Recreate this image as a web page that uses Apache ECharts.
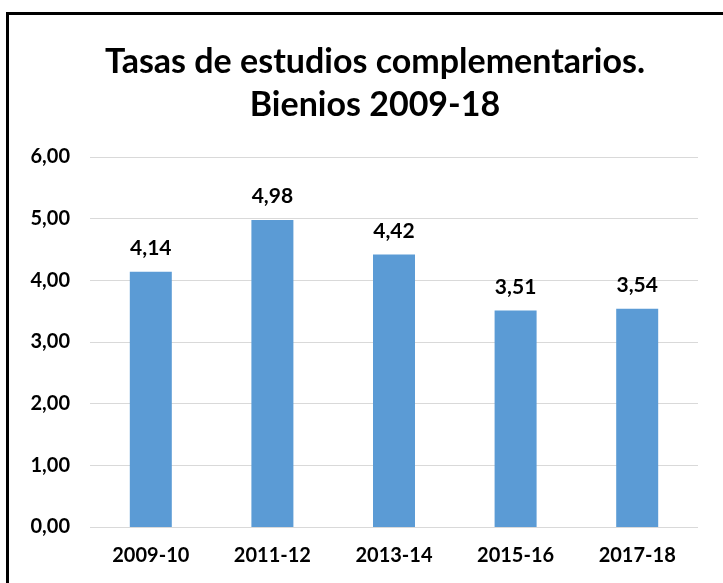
<!DOCTYPE html>
<html><head><meta charset="utf-8">
<script src="https://cdn.jsdelivr.net/npm/echarts@6/dist/echarts.min.js"></script>
<style>html,body{margin:0;padding:0;background:#fff}
#frame{position:absolute;left:6px;top:12px;width:740px;height:600px;border-left:3px solid #000;border-top:3px solid #000;}
#c{position:absolute;left:0;top:0;width:723px;height:583px}</style>
</head><body>
<div id="frame"></div>
<div id="c"></div>
<script>
const titleLines = ['Tasas de estudios complementarios.', 'Bienios 2009-18'];
const categories = ['2009-10', '2011-12', '2013-14', '2015-16', '2017-18'];
const values = [4.14, 4.98, 4.42, 3.51, 3.54];
const yMin = 0, yMax = 6, yStep = 1;

const fmt = v => v.toFixed(2).replace('.', ',');
const chart = echarts.init(document.getElementById('c'));
chart.setOption({
  animation: false,
  title: {
    text: titleLines.join('\n'),
    left: 370, top: 36, textAlign: 'center',
    textStyle: {fontFamily: 'Lato', fontWeight: 'bold', fontSize: 34, lineHeight: 43, color: '#000'}
  },
  grid: {left: 90, right: 25, top: 157, bottom: 56},
  xAxis: {
    type: 'category', data: categories,
    axisLine: {show: false}, axisTick: {show: false},
    axisLabel: {fontFamily: 'Lato', fontWeight: 'bold', fontSize: 20, color: '#000', margin: 19}
  },
  yAxis: {
    type: 'value', min: yMin, max: yMax, interval: yStep,
    axisLabel: {formatter: v => fmt(v), fontFamily: 'Lato', fontWeight: 'bold', fontSize: 20, color: '#000', margin: 20},
    splitLine: {lineStyle: {color: '#d9d9d9', width: 1}},
    axisLine: {show: false}, axisTick: {show: false}
  },
  series: [{
    type: 'bar', data: values, barWidth: 42,
    itemStyle: {color: '#5B9BD5'},
    label: {show: true, position: 'top', distance: 13, formatter: p => fmt(p.value),
      fontFamily: 'Lato', fontWeight: 'bold', fontSize: 21, color: '#000'}
  }]
});
</script>
</body></html>
